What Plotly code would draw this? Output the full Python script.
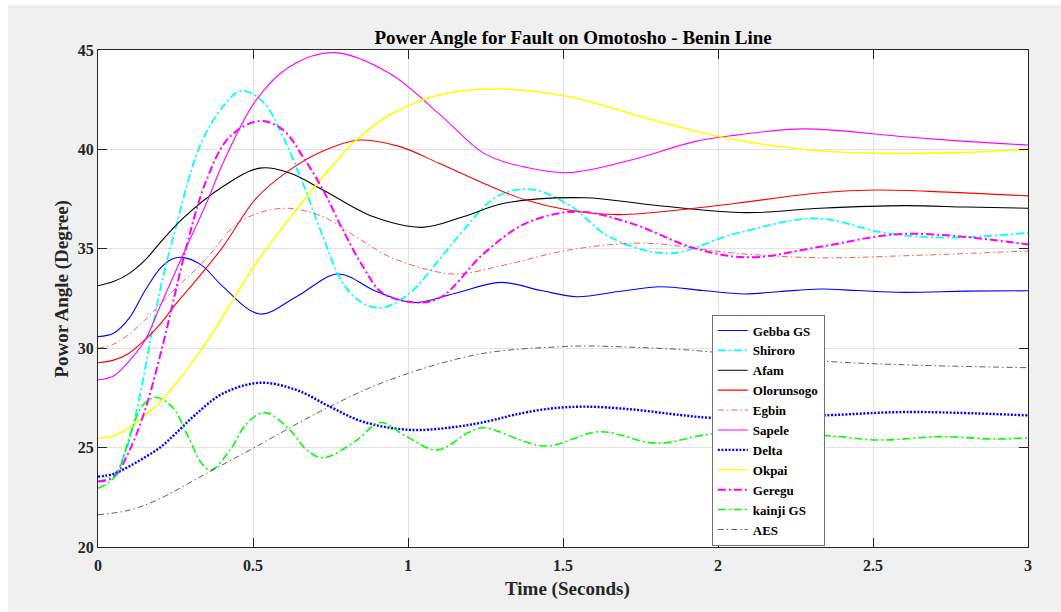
import plotly.graph_objects as go

# ---------------- data ----------------
gebba_t = [0, 0.05, 0.1, 0.15, 0.2, 0.238, 0.27, 0.334, 0.403, 0.522, 0.64, 0.774, 0.9, 1.02, 1.15, 1.30, 1.43,
           1.545, 1.68, 1.816, 1.95, 2.087, 2.2, 2.33, 2.45, 2.6, 2.8, 3.0]
gebba_v = [30.58, 30.75, 31.5, 32.85, 34.0, 34.47, 34.57, 34.18, 33.1, 31.72, 32.59, 33.73, 32.84, 32.3, 32.75, 33.31,
           32.9, 32.59, 32.85, 33.09, 32.9, 32.73, 32.85, 32.98, 32.9, 32.81, 32.87, 32.89]

shiroro_t = [0, 0.05, 0.087, 0.12, 0.15, 0.173, 0.205, 0.243, 0.328, 0.403, 0.462, 0.532, 0.597, 0.661, 0.726, 0.79,
             0.855, 0.919, 1.005, 1.10, 1.18, 1.286, 1.395, 1.52, 1.65, 1.84, 2.06, 2.318, 2.535, 2.74, 3.0]
shiroro_v = [23.3, 23.6, 24.71, 26.56, 28.8, 30.75, 33.26, 35.6, 40.14, 42.15, 42.95, 42.4, 40.64, 38.29, 35.6, 33.26,
             32.26, 32.04, 32.76, 34.44, 35.95, 37.62, 37.99, 37.2, 35.6, 34.77, 35.78, 36.53, 35.81, 35.56, 35.81]

afam_t = [0, 0.05, 0.1, 0.15, 0.2, 0.274, 0.403, 0.522, 0.62, 0.726, 0.887, 1.045, 1.18, 1.31, 1.57, 1.79, 2.09,
          2.33, 2.60, 2.8, 3.0]
afam_v = [33.14, 33.35, 33.75, 34.4, 35.3, 36.53, 38.13, 39.06, 38.8, 37.96, 36.62, 36.08, 36.62, 37.29, 37.57, 37.2,
          36.82, 37.04, 37.17, 37.1, 37.04]

olorun_t = [0, 0.05, 0.1, 0.15, 0.2, 0.25, 0.31, 0.403, 0.51, 0.618, 0.726, 0.844, 0.974, 1.10, 1.245, 1.38, 1.516,
            1.68, 1.924, 2.06, 2.33, 2.51, 2.74, 3.0]
olorun_v = [29.27, 29.4, 29.75, 30.4, 31.2, 32.2, 33.3, 35.1, 37.54, 38.96, 39.92, 40.47, 40.14, 39.3, 38.29, 37.45,
            36.95, 36.72, 37.04, 37.29, 37.82, 37.96, 37.85, 37.66]

egbin_t = [0, 0.05, 0.1, 0.15, 0.2, 0.25, 0.313, 0.36, 0.457, 0.597, 0.726, 0.833, 0.94, 1.091, 1.165, 1.31, 1.52,
           1.76, 2.06, 2.33, 2.6, 3.0]
egbin_v = [30.0, 30.2, 30.7, 31.4, 32.2, 33.0, 33.93, 34.7, 36.36, 37.04, 36.61, 35.6, 34.6, 33.85, 33.73, 34.18,
           34.94, 35.28, 34.77, 34.55, 34.65, 34.89]

sapele_t = [0, 0.05, 0.1, 0.15, 0.2, 0.28, 0.35, 0.403, 0.51, 0.618, 0.763, 0.94, 1.11, 1.245, 1.38, 1.516, 1.72,
            1.924, 2.06, 2.277, 2.6, 2.81, 3.0]
sapele_v = [28.4, 28.6, 29.35, 30.35, 32.1, 34.9, 37.3, 39.3, 42.48, 44.16, 44.87, 43.83, 41.65, 39.8, 39.1, 38.83,
            39.47, 40.39, 40.72, 41.03, 40.64, 40.39, 40.22]

delta_t = [0, 0.05, 0.1, 0.15, 0.2, 0.25, 0.313, 0.404, 0.523, 0.64, 0.748, 0.855, 1.006, 1.157, 1.265, 1.34, 1.447,
           1.566, 1.716, 1.877, 1.974, 2.1, 2.25, 2.37, 2.61, 3.0]
delta_v = [23.54, 23.68, 24.05, 24.5, 25.0, 25.7, 26.64, 27.73, 28.26, 27.9, 27.06, 26.3, 25.89, 26.05, 26.35, 26.64,
           26.94, 27.06, 26.93, 26.64, 26.5, 26.5, 26.58, 26.64, 26.79, 26.62]

okpai_t = [0, 0.05, 0.1, 0.15, 0.2, 0.25, 0.3, 0.377, 0.426, 0.51, 0.618, 0.726, 0.833, 0.94, 1.10, 1.286, 1.52, 1.79,
           2.06, 2.33, 2.535, 2.8, 3.0]
okpai_v = [25.47, 25.6, 26.0, 26.6, 27.3, 28.2, 29.2, 30.95, 32.2, 34.27, 36.53, 38.63, 40.47, 41.73, 42.74, 43.04,
           42.65, 41.48, 40.47, 39.93, 39.80, 39.85, 40.0]

geregu_t = [0, 0.05, 0.1, 0.15, 0.205, 0.259, 0.285, 0.35, 0.425, 0.522, 0.597, 0.661, 0.726, 0.79, 0.855, 0.919,
            1.037, 1.11, 1.245, 1.38, 1.544, 1.72, 1.924, 2.1, 2.33, 2.6, 3.0]
geregu_v = [23.3, 23.5, 24.8, 26.8, 29.91, 33.43, 35.1, 38.46, 40.64, 41.43, 40.98, 39.63, 37.96, 35.95, 34.1, 32.76,
            32.29, 32.6, 34.77, 36.28, 36.87, 36.28, 35.03, 34.57, 35.1, 35.75, 35.22]

kainji_t = [0, 0.055, 0.109, 0.141, 0.184, 0.238, 0.291, 0.334, 0.364, 0.426, 0.48, 0.539, 0.619, 0.673, 0.727, 0.835,
            0.91, 0.996, 1.093, 1.2, 1.245, 1.442, 1.619, 1.80, 1.974, 2.15, 2.37, 2.52, 2.716, 2.90, 3.0]
kainji_v = [22.95, 23.54, 25.89, 27.06, 27.53, 27.06, 25.55, 24.21, 23.87, 24.88, 26.22, 26.76, 25.89, 24.88, 24.49,
            25.38, 26.26, 25.55, 24.88, 25.8, 26.0, 25.08, 25.8, 25.22, 25.68, 25.78, 25.58, 25.38, 25.55, 25.43, 25.5]

aes_t = [0, 0.1, 0.19, 0.35, 0.51, 0.727, 0.94, 1.232, 1.5, 1.587, 1.877, 1.974, 2.37, 2.63, 3.0]
aes_v = [21.62, 21.85, 22.36, 23.7, 25.05, 26.9, 28.4, 29.71, 30.08, 30.11, 29.94, 29.82, 29.32, 29.15, 29.02]

x_ticks = [0, 0.5, 1, 1.5, 2, 2.5, 3]
x_tick_labels = ["0", "0.5", "1", "1.5", "2", "2.5", "3"]
y_ticks = [20, 25, 30, 35, 40, 45]
y_tick_labels = ["20", "25", "30", "35", "40", "45"]

title_text = "Power Angle for Fault on Omotosho - Benin Line"
x_title = "Time (Seconds)"
y_title = "Powor Angle (Degree)"

# ---------------- styles ----------------
DD_THICK = "8px,3px,2px,3px"
DD_THIN = "6px,3px,1.5px,3px"
series = [
    ("Gebba GS", gebba_t, gebba_v, "#0000ff", 1.1, "solid"),
    ("Shiroro", shiroro_t, shiroro_v, "#00ffff", 1.8, DD_THICK),
    ("Afam", afam_t, afam_v, "#000000", 1.1, "solid"),
    ("Olorunsogo", olorun_t, olorun_v, "#ff0000", 1.1, "solid"),
    ("Egbin", egbin_t, egbin_v, "#ff3030", 0.8, DD_THIN),
    ("Sapele", sapele_t, sapele_v, "#ff00ff", 1.1, "solid"),
    ("Delta", delta_t, delta_v, "#0000ff", 2.4, "2px,1.6px"),
    ("Okpai", okpai_t, okpai_v, "#ffff00", 1.6, "solid"),
    ("Geregu", geregu_t, geregu_v, "#ff00ff", 2.0, DD_THICK),
    ("kainji GS", kainji_t, kainji_v, "#00ff00", 1.6, DD_THICK),
    ("AES", aes_t, aes_v, "#333333", 0.8, DD_THIN),
]

fig = go.Figure()
for name, t, v, color, width, dash in series:
    fig.add_trace(go.Scatter(
        x=t, y=v, name=name, mode="lines",
        line=dict(color=color, width=width, dash=dash, shape="spline", smoothing=1.0),
    ))

SERIF = "Liberation Serif"
axis_common = dict(
    showline=True, linecolor="#262626", linewidth=1, mirror="ticks",
    ticks="inside", ticklen=9, tickcolor="#262626", tickwidth=1,
    showgrid=True, gridcolor="#e3e3e3", gridwidth=1, zeroline=False,
    tickfont=dict(family=SERIF, size=16, color="#262626", weight="bold"),
)

fig.update_layout(
    width=1061, height=612,
    margin=dict(l=98, r=33, t=50, b=65),
    paper_bgcolor="#f0f0f0", plot_bgcolor="#ffffff",
    title=dict(text=title_text, x=0.5108, xref="paper", xanchor="center",
               y=1 - 37 / 612, yref="container", yanchor="middle",
               font=dict(family=SERIF, size=19, color="#000000", weight="bold")),
    xaxis=dict(range=[0, 3], tickvals=x_ticks, ticktext=x_tick_labels, ticklabelstandoff=4, **axis_common),
    yaxis=dict(range=[20, 45], tickvals=y_ticks, ticktext=y_tick_labels, **axis_common),
    legend=dict(x=0.66, y=0.003, xanchor="left", yanchor="bottom",
                bgcolor="#ffffff", bordercolor="#707070", borderwidth=1,
                font=dict(family=SERIF, size=13, color="#000000", weight="bold"),
                tracegroupgap=0),
    showlegend=True,
    annotations=[
        dict(text=x_title, xref="paper", yref="paper", x=0.505, y=(547 - 589) / 497,
             xanchor="center", yanchor="middle", showarrow=False,
             font=dict(family=SERIF, size=19, color="#262626", weight="bold")),
        dict(text=y_title, xref="paper", yref="paper", x=(61.7 - 98) / 930, y=(547 - 289) / 497,
             xanchor="center", yanchor="middle", showarrow=False, textangle=-90,
             font=dict(family=SERIF, size=19, color="#262626", weight="bold")),
    ],
    shapes=[
        dict(type="rect", xref="paper", yref="paper", x0=(0 - 98) / 930, x1=(1061 - 98) / 930,
             y0=(547 - 5) / 497, y1=(547 + 1) / 497, fillcolor="#ffffff", line=dict(width=0), layer="below"),
        dict(type="rect", xref="paper", yref="paper", x0=(0 - 98) / 930, x1=(8 - 98) / 930,
             y0=(547 - 613) / 497, y1=(547 + 1) / 497, fillcolor="#ffffff", line=dict(width=0), layer="below"),
    ],
)

fig.write_html("out.html")
